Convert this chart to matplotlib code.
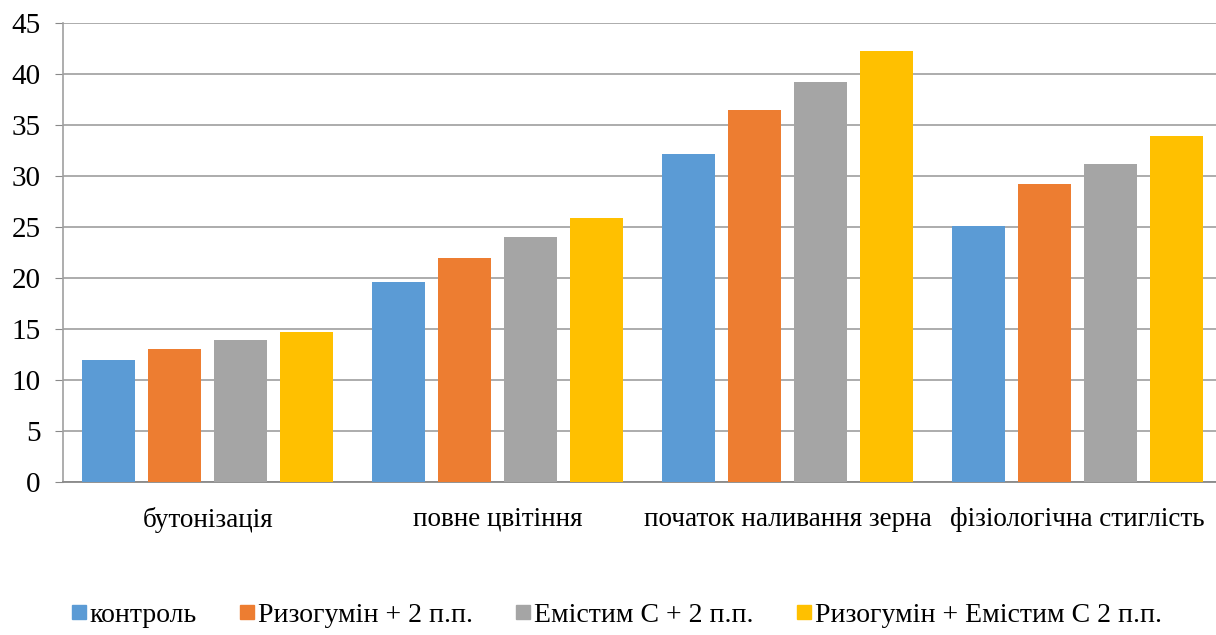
import numpy as np
import matplotlib.pyplot as plt
from matplotlib.lines import Line2D

plt.rcParams['font.family'] = ['Liberation Serif', 'DejaVu Serif']

stages = ['бутонізація', 'повне цвітіння', 'початок наливання зерна', 'фізіологічна стиглість']
series = ['контроль', 'Ризогумін + 2 п.п.', 'Емістим С + 2 п.п.', 'Ризогумін + Емістим С 2 п.п.']
kontrol = [12.0, 19.6, 32.1, 25.1]
rizogumin = [13.0, 22.0, 36.5, 29.2]
emistym = [13.9, 24.0, 39.2, 31.2]
rizo_emistym = [14.7, 25.9, 42.2, 33.9]
colors = ['#5B9BD5', '#ED7D31', '#A5A5A5', '#FFC000']

fig = plt.figure(figsize=(12.16, 6.35), dpi=100)
ax = fig.add_axes([0.0515, 0.241, 0.954, 0.723])

x = np.arange(len(stages))
width = 0.183
step = 0.228
for i, vals in enumerate([kontrol, rizogumin, emistym, rizo_emistym]):
    ax.bar(x + (i - 1.5) * step, vals, width, color=colors[i], zorder=3)

ax.set_xlim(-0.5, len(stages) - 0.5)
ax.set_ylim(0, 45)
ax.set_yticks(range(0, 46, 5))
ax.set_xticks(x)
ax.set_xticklabels(stages, fontsize=19.5)
ax.tick_params(axis='x', length=0, pad=18)
ax.tick_params(axis='y', labelsize=21, length=6, color='#898989', pad=10)
ax.grid(axis='y', color='#A6A6A6', linewidth=1.3, zorder=0)
for s in ['top', 'right']:
    ax.spines[s].set_visible(False)
ax.spines['left'].set_color('#A0A0A0')
ax.spines['bottom'].set_color('#898989')
ax.spines['left'].set_linewidth(1.2)
ax.spines['bottom'].set_linewidth(1.3)

handles = [Line2D([], [], marker='s', linestyle='none', markersize=10,
                  markerfacecolor=c, markeredgecolor=c) for c in colors]
fig.legend(handles, series, loc='lower center', bbox_to_anchor=(0.506, -0.028),
           ncol=4, frameon=False, fontsize=20, handletextpad=0.05,
           columnspacing=1.45, handlelength=0.7)

fig.savefig('out.png', dpi=100)
